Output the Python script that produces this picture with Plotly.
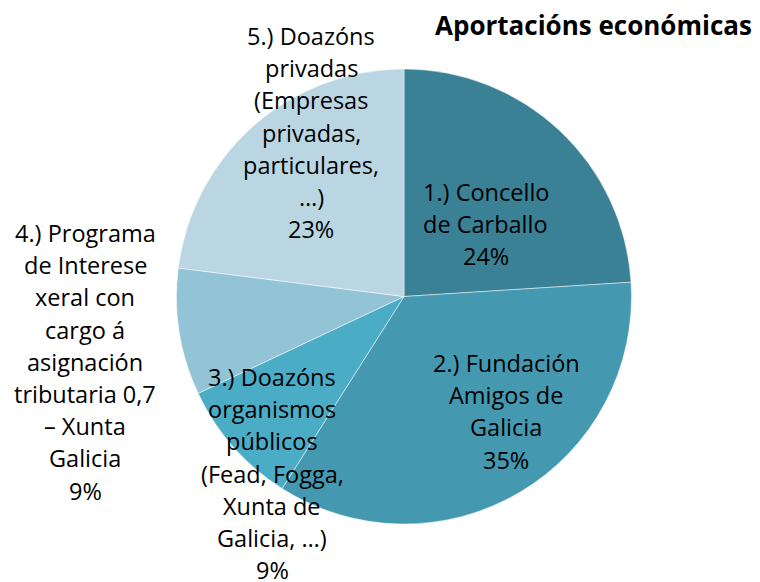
import plotly.graph_objects as go

# ---- data ----
categories = [
    "1.) Concello de Carballo",
    "2.) Fundación Amigos de Galicia",
    "3.) Doazóns organismos públicos (Fead, Fogga, Xunta de Galicia, …)",
    "4.) Programa de Interese xeral con cargo á asignación tributaria 0,7 – Xunta Galicia",
    "5.) Doazóns privadas (Empresas privadas, particulares, …)",
]
values = [24, 35, 9, 9, 23]
label_lines = [
    ["1.) Concello", "de Carballo"],
    ["2.) Fundación", "Amigos de", "Galicia"],
    ["3.) Doazóns", "organismos", "públicos", "(Fead, Fogga,", "Xunta de", "Galicia, …)"],
    ["4.) Programa", "de Interese", "xeral con", "cargo á", "asignación", "tributaria 0,7", "– Xunta", "Galicia"],
    ["5.) Doazóns", "privadas", "(Empresas", "privadas,", "particulares,", "…)"],
]
colors = ["#3A8195", "#4499B0", "#4BACC6", "#93C4D6", "#BAD6E3"]
title = "Aportacións económicas"

# ---- layout constants (screen pixels; page has an 8px body margin) ----
W, H = 760, 582
OFF = 8
cx, cy, r = 404 - OFF, 296.5 - OFF, 227.5
label_pos = [(486, 192), (506, 363), (272, 377), (85, 233), (311, 36)]
line_step = 32.2
FONT = "Open Sans, Lato, sans-serif"

fig = go.Figure(go.Pie(
    labels=categories,
    values=values,
    sort=False,
    direction="clockwise",
    rotation=0,
    textinfo="none",
    hoverinfo="label+percent",
    marker=dict(colors=colors, line=dict(color="rgba(255,255,255,0.6)", width=0.8)),
    domain=dict(x=[(cx - r) / W, (cx + r) / W], y=[1 - (cy + r) / H, 1 - (cy - r) / H]),
    showlegend=False,
))

annotations = []
for lines, v, (lx, ly) in zip(label_lines, values, label_pos):
    all_lines = lines + [f"{v}%"]
    for i, t in enumerate(all_lines):
        y_px = ly - OFF + i * line_step
        annotations.append(dict(
            x=(lx - OFF) / W, y=1 - y_px / H, xref="paper", yref="paper",
            text=t, showarrow=False, xanchor="center", yanchor="middle",
            font=dict(family=FONT, size=23.5, color="#000000"),
        ))

annotations.append(dict(
    x=(593 - OFF) / W, y=1 - (25 - OFF) / H, xref="paper", yref="paper",
    text=f"<b>{title}</b>", showarrow=False, xanchor="center", yanchor="middle",
    font=dict(family=FONT, size=26, color="#000000"),
))

fig.update_layout(
    width=W, height=H,
    margin=dict(l=0, r=0, t=0, b=0),
    paper_bgcolor="white", plot_bgcolor="white",
    annotations=annotations,
)

fig.write_html("out.html")
